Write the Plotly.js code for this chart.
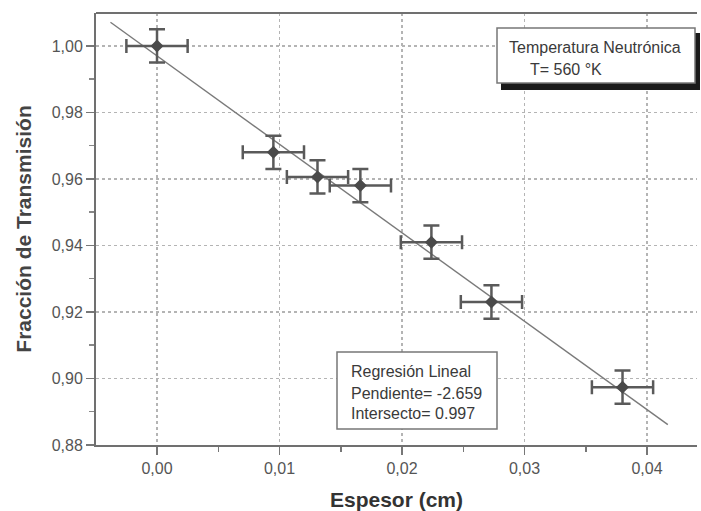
<!DOCTYPE html>
<html>
<head>
<meta charset="utf-8">
<script src="https://cdn.plot.ly/plotly-3.0.1.min.js"></script>
<style>
  html, body { margin: 0; padding: 0; background: #fff; }
  #chart { width: 701px; height: 511px; }
</style>
</head>
<body>
<div id="chart"></div>
<script>
// Measured transmission fraction vs. absorber thickness
const espesor      = [0.0000, 0.0095, 0.0131, 0.0166, 0.0224, 0.0273, 0.0380];
const transmision  = [1.000, 0.968, 0.9606, 0.958, 0.941, 0.923, 0.8974];
const errEspesor   = [0.0025, 0.0025, 0.0025, 0.0025, 0.0025, 0.0025, 0.0025];
const errTransmis  = [0.005, 0.005, 0.005, 0.005, 0.005, 0.005, 0.005];

// Linear regression results
const pendiente  = -2.659;
const intersecto = 0.997;
const ajusteX    = [-0.0038, 0.0417];

const xTicks = [0.00, 0.01, 0.02, 0.03, 0.04];
const yTicks = [0.88, 0.90, 0.92, 0.94, 0.96, 0.98, 1.00];

const ajusteY = ajusteX.map(x => intersecto + pendiente * x);

const FONT = '"Liberation Sans", Arial, sans-serif';

// plot area in pixels: left 96, right 697, top 13, bottom 445
const L = 96, R = 697, T = 13, B = 445;
const px = x => (x - L) / (R - L);
const py = y => (B - y) / (B - T);

const traces = [
  {
    x: ajusteX, y: ajusteY, mode: 'lines', type: 'scatter',
    line: { color: '#7a7a7a', width: 1.4 },
    hoverinfo: 'skip'
  },
  {
    x: espesor, y: transmision, mode: 'markers', type: 'scatter',
    marker: { symbol: 'diamond', size: 10, color: '#4a4a4a' },
    error_x: { type: 'data', array: errEspesor, visible: true, color: '#5a5a5a', thickness: 2.5, width: 7 },
    error_y: { type: 'data', array: errTransmis, visible: true, color: '#5a5a5a', thickness: 2.5, width: 8 }
  }
];

const axisCommon = {
  showline: true, linecolor: '#707070', linewidth: 2,
  ticks: 'outside', ticklen: 8, tickwidth: 1.5, tickcolor: '#777',
  showgrid: true, gridcolor: '#b4b4b4', griddash: 'dot', gridwidth: 1.3,
  zeroline: false,
  tickfont: { family: FONT, size: 16, color: '#555' }
};

const layout = {
  width: 701, height: 511,
  margin: { l: L, r: 701 - R, t: T, b: 511 - B },
  paper_bgcolor: '#fff', plot_bgcolor: '#fff',
  separators: ',.',
  showlegend: false,
  xaxis: Object.assign({}, axisCommon, {
    range: [-0.00498, 0.04408],
    tickmode: 'array', tickvals: xTicks, tickformat: '.2f',
    minor: { dtick: 0.005, ticks: 'outside', ticklen: 5, tickcolor: '#777', showgrid: false },
    title: { text: '<b>Espesor (cm)</b>', font: { family: FONT, size: 21, color: '#333' }, standoff: 16 }
  }),
  yaxis: Object.assign({}, axisCommon, {
    range: [0.88, 1.0099],
    tickmode: 'array', tickvals: yTicks, tickformat: '.2f',
    minor: { dtick: 0.01, ticks: 'outside', ticklen: 5, tickcolor: '#888', showgrid: false },
    title: { text: '<b>Fracción de Transmisión</b>', font: { family: FONT, size: 21, color: '#444' }, standoff: 14 }
  }),
  shapes: [
    // top frame line
    { type: 'line', xref: 'paper', yref: 'paper', x0: 0, x1: 1, y0: 1, y1: 1,
      line: { color: '#707070', width: 2 } },
    // shadow of the temperature box
    { type: 'rect', xref: 'paper', yref: 'paper', layer: 'above',
      x0: px(501), x1: px(700), y0: py(90), y1: py(33),
      fillcolor: '#1a1a1a', line: { width: 0 } },
    // temperature box
    { type: 'rect', xref: 'paper', yref: 'paper', layer: 'above',
      x0: px(497), x1: px(695), y0: py(83), y1: py(28),
      fillcolor: '#fff', line: { color: '#777', width: 1.5 } },
    // regression box
    { type: 'rect', xref: 'paper', yref: 'paper', layer: 'above',
      x0: px(337), x1: px(497), y0: py(429), y1: py(352),
      fillcolor: '#fff', line: { color: '#777', width: 1.5 } }
  ],
  annotations: [
    { text: 'Temperatura Neutrónica', xref: 'paper', yref: 'paper', x: px(507), y: py(47),
      xanchor: 'left', yanchor: 'middle', showarrow: false,
      font: { family: FONT, size: 16, color: '#3a3a3a' } },
    { text: 'T= 560 °K', xref: 'paper', yref: 'paper', x: px(528), y: py(70),
      xanchor: 'left', yanchor: 'middle', showarrow: false,
      font: { family: FONT, size: 16, color: '#3a3a3a' } },
    { text: 'Regresión Lineal', xref: 'paper', yref: 'paper', x: px(349), y: py(371),
      xanchor: 'left', yanchor: 'middle', showarrow: false,
      font: { family: FONT, size: 16, color: '#3a3a3a' } },
    { text: 'Pendiente= ' + pendiente.toFixed(3), xref: 'paper', yref: 'paper', x: px(349), y: py(393),
      xanchor: 'left', yanchor: 'middle', showarrow: false,
      font: { family: FONT, size: 16, color: '#3a3a3a' } },
    { text: 'Intersecto= ' + intersecto.toFixed(3), xref: 'paper', yref: 'paper', x: px(349), y: py(413),
      xanchor: 'left', yanchor: 'middle', showarrow: false,
      font: { family: FONT, size: 16, color: '#3a3a3a' } }
  ]
};

Plotly.newPlot('chart', traces, layout, { displayModeBar: false, staticPlot: true });
</script>
</body>
</html>
